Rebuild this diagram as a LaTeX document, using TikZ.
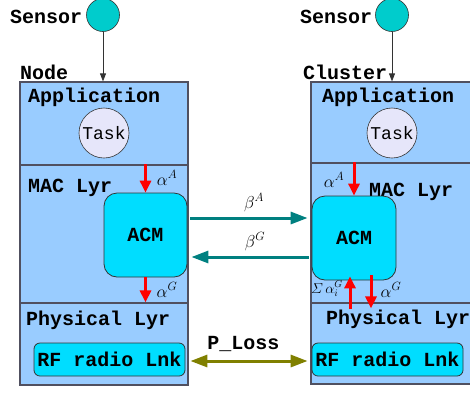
\documentclass[tikz,border=0pt]{standalone}
\usepackage{amsmath}
\usepackage{fontspec}
\setmonofont{Liberation Mono}
\usetikzlibrary{arrows.meta}

\definecolor{layerblue}{HTML}{99CCFF}
\definecolor{edgegray}{HTML}{505060}
\definecolor{sensorcyan}{HTML}{00CCCC}
\definecolor{acmcyan}{HTML}{00DDFF}
\definecolor{tasklav}{HTML}{E6E6FA}
\definecolor{linkteal}{HTML}{008080}
\definecolor{lossolive}{HTML}{808000}

\begin{document}
\begin{tikzpicture}[x=1pt,y=-1pt,
  txt/.style={inner sep=0,font=\fontsize{20}{24}\selectfont\ttfamily\bfseries},
  mlbl/.style={inner sep=0,font=\fontsize{17.28}{20}\selectfont},
  layer/.style={draw=edgegray,fill=layerblue,line width=1.2pt,minimum width=168pt,inner sep=0},
  sensor/.style={circle,draw=black!80,fill=sensorcyan,line width=0.6pt,minimum size=33pt,inner sep=0},
  task/.style={circle,draw=black!80,fill=tasklav,line width=0.6pt,minimum size=50pt,inner sep=0,
    font=\fontsize{18}{22}\selectfont\ttfamily},
  acm/.style={draw=black!80,fill=acmcyan,rounded corners=13pt,line width=0.8pt,
    minimum width=83pt,minimum height=84pt,inner sep=0,font=\fontsize{20}{24}\selectfont\ttfamily\bfseries},
  rf/.style={draw=black!80,fill=acmcyan,rounded corners=6pt,line width=0.8pt,
    minimum width=151pt,minimum height=33pt,inner sep=0,font=\fontsize{20}{24}\selectfont\ttfamily\bfseries},
  feed/.style={draw=black!80,line width=0.8pt,-{Triangle[length=8pt,width=6pt]}},
  redarr/.style={draw=red,line width=3pt,-{Triangle[length=12pt,width=11pt]}},
  linkarr/.style={draw=linkteal,line width=3pt,-{Triangle[length=17pt,width=12pt]}},
  lossarr/.style={draw=lossolive,line width=3pt,{Triangle[length=17pt,width=12pt]}-{Triangle[length=17pt,width=12pt]}}]
\useasboundingbox (0,0) rectangle (470,392);
\clip (0,0) rectangle (470,392);

% node side
\node[layer,minimum height=83pt] (appL) at (104,123.5) {};
\node[layer,minimum height=138pt] (macL) at (104,234) {};
\node[layer,minimum height=82pt] (phyL) at (104,344) {};
\node[sensor] (sensL) at (103,15) {};
\node[txt,anchor=base west] (sensLbl) at (10,23) {Sensor};
\node[txt,anchor=base west] (nodeLbl) at (20,79) {Node};
\node[txt,anchor=base west] (appLbl) at (28,102) {Application};
\node[task] (taskL) at (104,133) {Task};
\node[txt,anchor=base west] (macLbl) at (28,192) {MAC Lyr};
\node[acm] (acmL) at (145.5,235) {ACM};
\node[txt,anchor=base west] (phyLbl) at (26,325) {Physical Lyr};
\node[rf] (rfL) at (109.5,359.5) {RF radio Lnk};
\draw[feed] (sensL) -- (appL.north -| sensL);
\draw[redarr] (acmL.north |- macL.north) -- (acmL.north);
\node[mlbl] (aAL) at (167,178) {$\alpha^A$};
\draw[redarr] (acmL.south) -- (acmL.south |- phyL.north);
\node[mlbl] (aGL) at (167,290) {$\alpha^G$};

% cluster side
\node[layer,minimum height=81pt] (appR) at (395,122.5) {};
\node[layer,minimum height=140pt] (macR) at (395,233) {};
\node[layer,minimum height=81pt] (phyR) at (395,343.5) {};
\node[sensor] (sensR) at (392,15) {};
\node[txt,anchor=base west] (sensRLbl) at (300,23) {Sensor};
\node[txt,anchor=base west] (clusLbl) at (303,79) {Cluster};
\node[txt,anchor=base west] (appRLbl) at (322,102) {Application};
\node[task] (taskR) at (392,133) {Task};
\node[txt,anchor=base west] (macRLbl) at (369,196) {MAC Lyr};
\node[acm,minimum width=84pt] (acmR) at (354,238) {ACM};
\node[txt,anchor=base west] (phyRLbl) at (326,324) {Physical Lyr};
\node[rf] (rfR) at (387.5,359.5) {RF radio Lnk};
\draw[feed] (sensR) -- (appR.north -| sensR);
\draw[redarr] (acmR.north |- macR.north) -- (acmR.north);
\node[mlbl] (aAR) at (334,180) {$\alpha^A$};
\draw[redarr] ([shift={(-4,29)}]acmR.south) -- ([shift={(-4,-4)}]acmR.south);
\draw[redarr] ([shift={(17,-5)}]acmR.south) -- ([shift={(17,28)}]acmR.south);
\node[mlbl,font=\fontsize{14.4}{18}\selectfont] (sumR) at (327,289) {$\varSigma\,\alpha_i^G$};
\node[mlbl] (aGR) at (391,290) {$\alpha^G$};

% links
\draw[linkarr] ([shift={(3,-17)}]acmL.east) -- node[mlbl,above=5pt,xshift=5pt] (betaA) {$\beta^A$} ([shift={(-4,-20)}]acmR.west);
\draw[linkarr] ([shift={(-3,19)}]acmR.west) -- node[mlbl,above=5pt,xshift=5pt] (betaG) {$\beta^G$} ([shift={(4,22)}]acmL.east);
\draw[lossarr] ([shift={(5,1.5)}]rfL.east) -- ([shift={(-4,1.5)}]rfR.west);
\node[txt,anchor=base] (lossLbl) at (243.5,349) {P\_Loss};
\end{tikzpicture}
\end{document}
